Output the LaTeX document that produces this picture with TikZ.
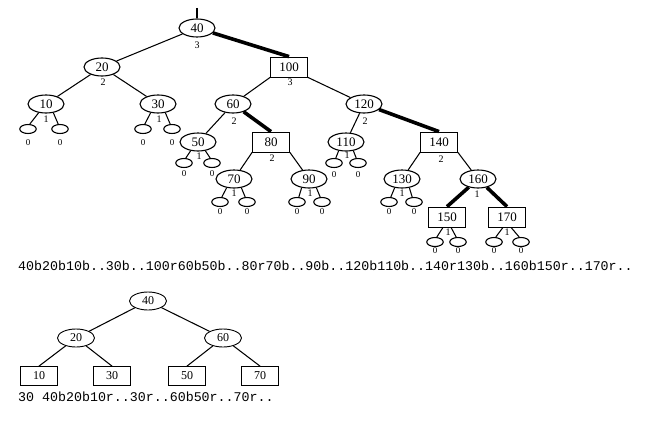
\documentclass[tikz,border=0pt]{standalone}
\usepackage{fontspec}
\setmainfont{Liberation Serif}
\setmonofont{Liberation Mono}
\usetikzlibrary{shapes.geometric}
\newcommand\leafpair[7]{%
  \node[leaf] (#1a) at (#2,#4) {};
  \node[leaf] (#1b) at (#3,#4) {};
  \node[zlab] (#1za) at (#2,#5) {0};
  \node[zlab] (#1zb) at (#3,#5) {0};
  \draw[edge] (#6) -- (#1a.70);
  \draw[edge] (#7) -- (#1b.110);
}
\begin{document}
\begin{tikzpicture}[x=1pt,y=-1pt,
  every node/.style={inner sep=0pt},
  enode/.style={ellipse,draw,line width=1.1pt,minimum width=36pt,minimum height=18pt,font=\fontsize{13}{15}\selectfont},
  rnode/.style={rectangle,draw,line width=0.8pt,minimum width=37pt,minimum height=20pt,font=\fontsize{13}{15}\selectfont},
  benode/.style={ellipse,draw,line width=0.9pt,minimum width=37pt,minimum height=18pt,font=\fontsize{12}{14}\selectfont},
  brnode/.style={rectangle,draw,line width=0.8pt,minimum width=37pt,minimum height=19pt,font=\fontsize{12}{14}\selectfont},
  leaf/.style={ellipse,draw,line width=1.1pt,minimum width=16.5pt,minimum height=9pt},
  hlab/.style={font=\fontsize{10}{12}\selectfont},
  zlab/.style={font=\fontsize{9}{10}\selectfont},
  mono/.style={font=\fontsize{13.3}{15}\ttfamily,anchor=west},
  edge/.style={line width=1.05pt},
  redge/.style={line width=3.6pt}]
\useasboundingbox (0,0) rectangle (669,428);
% top tree
\coordinate (root) at (197,8);
\node[enode] (n40) at (197,28) {40};
\node[hlab] (h40) at (197,45) {3};
\node[enode] (n20) at (102,67) {20};
\node[hlab] (h20) at (103,82) {2};
\node[rnode] (n100) at (289,67) {100};
\node[hlab] (h100) at (290,82) {3};
\node[enode] (n10) at (46,104) {10};
\node[hlab] (h10) at (46,119) {1};
\node[enode] (n30) at (158,104) {30};
\node[hlab] (h30) at (159,119) {1};
\node[enode] (n60) at (233,104) {60};
\node[hlab] (h60) at (234,121) {2};
\node[enode] (n120) at (364,104) {120};
\node[hlab] (h120) at (365,121) {2};
\node[enode] (n50) at (198,142) {50};
\node[hlab] (h50) at (199,156) {1};
\node[rnode] (n80) at (271,142) {80};
\node[hlab] (h80) at (272,158) {2};
\node[enode] (n110) at (346,142) {110};
\node[hlab] (h110) at (347,155) {1};
\node[rnode] (n140) at (439,142) {140};
\node[hlab] (h140) at (441,159) {2};
\node[enode] (n70) at (234,179) {70};
\node[hlab] (h70) at (234,193) {1};
\node[enode] (n90) at (309,179) {90};
\node[hlab] (h90) at (310,193) {1};
\node[enode] (n130) at (402,179) {130};
\node[hlab] (h130) at (402,193) {1};
\node[enode] (n160) at (478,179) {160};
\node[hlab] (h160) at (477,194) {1};
\node[rnode] (n150) at (447,217) {150};
\node[hlab] (h150) at (448,232) {1};
\node[rnode] (n170) at (507,217) {170};
\node[hlab] (h170) at (507,232) {1};
% edges
\draw[edge] (root) -- (n40.north);
\draw[edge] (n40) -- (n20);
\draw[redge] (n40) -- (n100.north);
\draw[edge] (n20) -- (n10);
\draw[edge] (n20) -- (n30);
\draw[edge] (n100.south west) -- (n60);
\draw[edge] (n100.south east) -- (n120);
\draw[edge] (n60) -- (n50);
\draw[redge] (n60) -- (n80.north);
\draw[edge] (n120) -- (n110);
\draw[redge] (n120) -- (n140.north);
\draw[edge] (n80.south west) -- (n70);
\draw[edge] (n80.south east) -- (n90);
\draw[edge] (n140.south west) -- (n130);
\draw[edge] (n140.south east) -- (n160);
\draw[redge] (n160) -- (n150.north);
\draw[redge] (n160) -- (n170.north);
% leaves
\leafpair{n10}{28}{60}{129}{143}{n10.-130}{n10.-50}
\leafpair{n30}{143}{172}{129}{143}{n30.-130}{n30.-50}
\leafpair{n50}{184}{212}{163}{174}{n50.-130}{n50.-50}
\leafpair{n110}{334}{358}{163}{175}{n110.-130}{n110.-50}
\leafpair{n70}{220}{247}{202}{212}{n70.-130}{n70.-50}
\leafpair{n90}{297}{322}{202}{212}{n90.-130}{n90.-50}
\leafpair{n130}{389}{414}{202}{212}{n130.-130}{n130.-50}
\leafpair{n150}{435}{458}{242}{251}{[xshift=-4pt]n150.south}{[xshift=4pt]n150.south}
\leafpair{n170}{494}{521}{242}{251}{[xshift=-4pt]n170.south}{[xshift=4pt]n170.south}
% text line 1
\node[mono] (t1) at (18,266) {40b20b10b..30b..100r60b50b..80r70b..90b..120b110b..140r130b..160b150r..170r..};
% bottom tree
\node[benode] (b40) at (148,301) {40};
\node[benode] (b20) at (76,338) {20};
\node[benode] (b60) at (223,338) {60};
\node[brnode] (b10) at (39,376) {10};
\node[brnode] (b30) at (112,376) {30};
\node[brnode] (b50) at (187,376) {50};
\node[brnode] (b70) at (260,376) {70};
\draw[edge] (b40) -- (b20);
\draw[edge] (b40) -- (b60);
\draw[edge] (b20) -- (b10.north);
\draw[edge] (b20) -- (b30.north);
\draw[edge] (b60) -- (b50.north);
\draw[edge] (b60) -- (b70.north);
\node[mono] (t2) at (18,397) {30 40b20b10r..30r..60b50r..70r..};
\end{tikzpicture}
\end{document}
